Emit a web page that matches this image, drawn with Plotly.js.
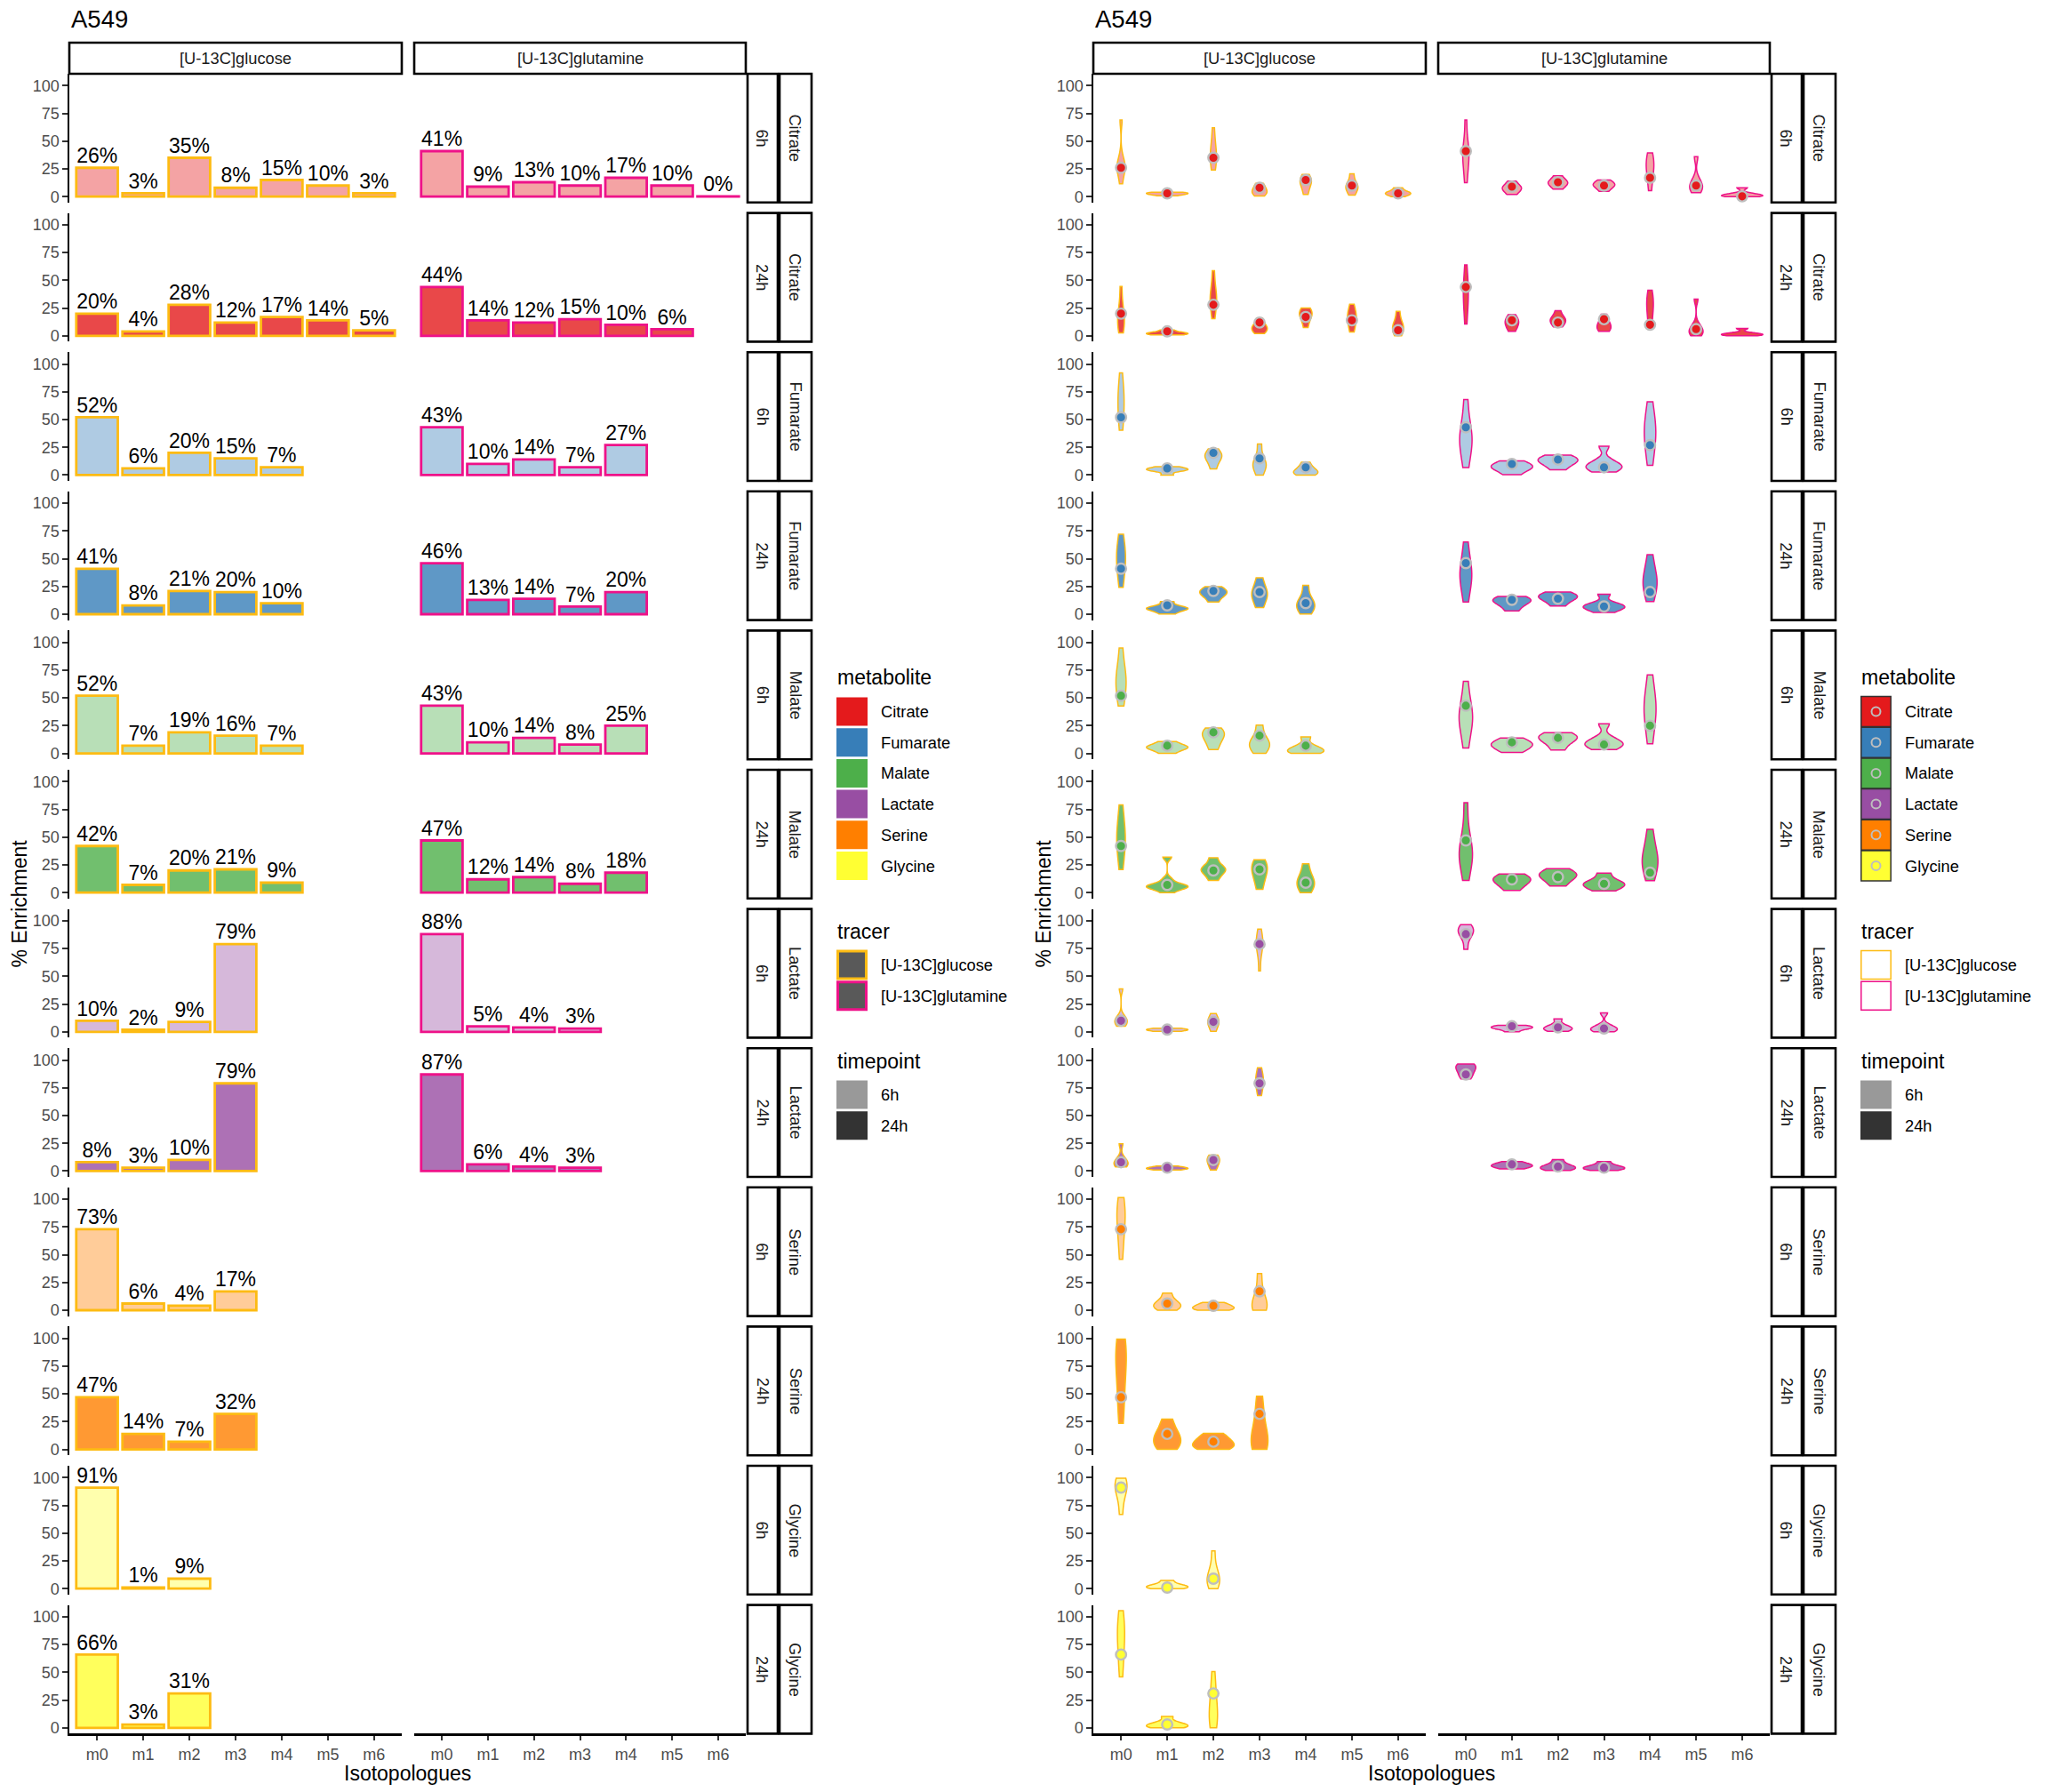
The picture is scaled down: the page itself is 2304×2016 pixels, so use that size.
<!DOCTYPE html>
<html>
<head>
<meta charset="utf-8">
<script src="https://cdn.plot.ly/plotly-3.0.1.min.js"></script>
<style>
html,body{margin:0;padding:0;background:#fff;}
#chart{width:2304px;height:2016px;}
</style>
</head>
<body>
<div id="chart"></div>
<script>
// ---------------- categories ----------------
const isotopologues = ['m0','m1','m2','m3','m4','m5','m6'];
const metabolites = ['Citrate','Fumarate','Malate','Lactate','Serine','Glycine'];
const timepoints = ['6h','24h'];
const tracers = ['[U-13C]glucose','[U-13C]glutamine'];
const yTicks = [0, 25, 50, 75, 100];

// ---------------- mean % enrichment (bar heights, violin centre points) ----------------
const citrate6hGlucose    = [26, 3, 35, 8, 15, 10, 3];
const citrate6hGlutamine  = [41, 9, 13, 10, 17, 10, 0.3];
const citrate24hGlucose   = [20, 4, 28, 12, 17, 14, 5];
const citrate24hGlutamine = [44, 14, 12, 15, 10, 6];
const fumarate6hGlucose    = [52, 6, 20, 15, 7];
const fumarate6hGlutamine  = [43, 10, 14, 7, 27];
const fumarate24hGlucose   = [41, 8, 21, 20, 10];
const fumarate24hGlutamine = [46, 13, 14, 7, 20];
const malate6hGlucose    = [52, 7, 19, 16, 7];
const malate6hGlutamine  = [43, 10, 14, 8, 25];
const malate24hGlucose   = [42, 7, 20, 21, 9];
const malate24hGlutamine = [47, 12, 14, 8, 18];
const lactate6hGlucose    = [10, 2, 9, 79];
const lactate6hGlutamine  = [88, 5, 4, 3];
const lactate24hGlucose   = [8, 3, 10, 79];
const lactate24hGlutamine = [87, 6, 4, 3];
const serine6hGlucose  = [73, 6, 4, 17];
const serine24hGlucose = [47, 14, 7, 32];
const glycine6hGlucose  = [91, 1, 9];
const glycine24hGlucose = [66, 3, 31];

// ---------------- replicate distributions per isotopologue (violins) ----------------
const citrate6hGlucoseSamples = [
  [11.5, 21, 25, 27, 29, 36, 69], [0.8, 1.8, 2.4, 3, 3.6, 4], [24, 30, 34, 38, 42, 50, 62],
  [0.5, 3, 4.5, 6, 9, 12], [2, 8, 12, 14, 16, 20], [1.3, 6, 8, 10, 13, 20.5], [0, 2, 2.7, 3.5, 5, 8]];
const citrate6hGlutamineSamples = [
  [12.5, 25, 33, 38, 42, 48, 69], [2, 5, 7, 8.5, 10, 14], [6.7, 10, 12, 13, 15, 18.7],
  [4.8, 8, 10, 11, 12.5, 15], [5.3, 15, 22, 27, 30, 34, 39.5], [3.5, 7, 9, 11, 16, 36], [0, 0.5, 1, 1.5, 3, 8]];
const citrate24hGlucoseSamples = [
  [2.7, 8, 12, 16, 20, 28, 44.5], [0.8, 1.5, 2, 2.6, 3.4, 5.3], [15.5, 25, 30, 34, 37, 45, 58.7],
  [2, 5, 6.5, 8, 11, 16], [7.5, 14, 18, 20, 22, 25], [3.5, 10, 15, 18, 21, 28.5], [0, 4, 7, 9, 13, 22]];
const citrate24hGlutamineSamples = [
  [10.7, 24, 32, 38, 44, 50, 64], [4, 8, 11, 13, 15, 19], [8, 11, 13.5, 15, 17, 22.7],
  [4, 6.5, 8, 10, 14, 19.5], [7, 15, 22, 27, 31, 35, 41], [0, 2.5, 4, 6, 10, 33], [0, 0.6, 1.2, 1.8, 2.6, 6.7]];
const fumarate6hGlucoseSamples = [
  [40.3, 50, 58, 66, 72, 78, 92], [0, 3.5, 4.5, 5.3, 6, 7.5], [5.6, 12, 15.5, 17.5, 19.5, 23.5],
  [0, 6, 9, 11, 16, 28], [0, 1.5, 2.5, 4, 7, 11.5]];
const fumarate6hGlutamineSamples = [
  [6.7, 20, 28, 33, 38, 48, 68], [0.3, 4.5, 6.5, 8, 10, 12.8], [4.8, 9.5, 12, 13.5, 15.5, 18],
  [2.7, 6, 7.5, 9, 13, 26], [8.8, 22, 32, 38, 44, 52, 66]];
const fumarate24hGlucoseSamples = [
  [24.3, 36, 44, 50, 55, 62, 72], [0.3, 3.5, 4.8, 5.6, 7, 11.5], [11, 16, 18.5, 20, 22, 24.8],
  [6, 13, 17, 20, 24, 32.8], [0.3, 5, 8, 10, 15, 26]];
const fumarate24hGlutamineSamples = [
  [11, 25, 31, 36, 42, 50, 65], [3, 8, 11, 12.5, 14, 16], [7.5, 12, 14.5, 16, 17.5, 20],
  [1.6, 5, 6.5, 7.5, 10, 18], [11.5, 20, 26, 30, 34, 42, 53.6]];
const malate6hGlucoseSamples = [
  [42.7, 52, 60, 66, 70, 78, 95], [0, 3.5, 5, 6, 7.5, 10.7], [3.5, 10, 15, 17.5, 19.5, 23],
  [0, 5, 8, 10, 15, 25.6], [0, 1.5, 2.5, 4, 7, 15]];
const malate6hGlutamineSamples = [
  [4.8, 20, 28, 33, 38, 47, 65], [0.8, 4.5, 7, 8.5, 10.5, 14], [3, 9, 12.5, 14.5, 16, 18.7],
  [3.5, 7, 8.5, 10, 14, 26.7], [8.8, 24, 34, 40, 46, 55, 70.7]];
const malate24hGlucoseSamples = [
  [20.8, 35, 43, 49, 55, 64, 79], [0, 4, 5, 5.5, 6, 7, 12, 32], [11, 17, 20, 21.5, 24, 31.5],
  [3, 12, 18, 22, 25, 29.6], [0, 5, 8.5, 11, 16, 26]];
const malate24hGlutamineSamples = [
  [11, 26, 32, 36, 42, 55, 81], [2, 7, 10, 12, 14, 16.8], [6, 11, 14.5, 16, 18, 21.6],
  [1.6, 5, 7, 8.5, 11, 17.6], [10.7, 20, 26, 30, 34, 44, 57]];
const lactate6hGlucoseSamples = [
  [5, 7.5, 9.5, 11, 14, 38.7], [0.5, 1.3, 1.9, 2.5, 3.2], [0.5, 5, 8, 9.5, 12, 16.5],
  [55, 70, 76, 79, 82, 86, 92.5]];
const lactate6hGlutamineSamples = [
  [74.4, 84, 88, 90, 92, 94, 96.5], [0, 2.5, 3.5, 4, 5, 5.9], [0.5, 2, 3, 4, 6, 11.7],
  [0, 1.5, 2.5, 3.5, 6, 17]];
const lactate24hGlucoseSamples = [
  [3.7, 5.5, 7, 8.5, 12, 24.5], [1, 2, 2.5, 3.2, 4.5], [1, 5, 8, 10, 12, 14.4],
  [68, 75, 79, 83, 86, 93]];
const lactate24hGlutamineSamples = [
  [83, 86, 89, 92, 94, 95.5, 96.5], [2, 3.5, 4.5, 5.5, 6.5, 8.5], [0.5, 2, 3, 4, 6, 10.4],
  [0.5, 1.8, 2.7, 3.5, 5, 8.5]];
const serine6hGlucoseSamples = [
  [45.8, 62, 73, 82, 88, 93, 101.6], [0, 2.5, 4, 6, 9, 15.5], [0, 1, 2, 3.5, 5, 7],
  [0, 2, 4, 8, 17, 33]];
const serine24hGlucoseSamples = [
  [23.5, 40, 55, 70, 80, 88, 95, 99.4], [0, 4, 8, 12, 17, 27.4], [0, 2, 4, 7, 10, 14.5],
  [0, 3, 6, 10, 20, 33, 48]];
const glycine6hGlucoseSamples = [
  [66.8, 80, 87, 91, 94, 97, 99.4], [0, 0.8, 1.5, 2.5, 4, 7.4], [0, 4, 7, 9, 13, 20, 34]];
const glycine24hGlucoseSamples = [
  [45.8, 60, 72, 82, 88, 94, 105.5], [0, 1, 2, 3, 5, 10.3], [0, 5, 10, 15, 25, 35, 50.6]];

// lookup tables built from the arrays above: [metabolite][timepoint][tracer]
const meanTable = [
  [[citrate6hGlucose, citrate6hGlutamine], [citrate24hGlucose, citrate24hGlutamine]],
  [[fumarate6hGlucose, fumarate6hGlutamine], [fumarate24hGlucose, fumarate24hGlutamine]],
  [[malate6hGlucose, malate6hGlutamine], [malate24hGlucose, malate24hGlutamine]],
  [[lactate6hGlucose, lactate6hGlutamine], [lactate24hGlucose, lactate24hGlutamine]],
  [[serine6hGlucose, null], [serine24hGlucose, null]],
  [[glycine6hGlucose, null], [glycine24hGlucose, null]]
];
const sampleTable = [
  [[citrate6hGlucoseSamples, citrate6hGlutamineSamples], [citrate24hGlucoseSamples, citrate24hGlutamineSamples]],
  [[fumarate6hGlucoseSamples, fumarate6hGlutamineSamples], [fumarate24hGlucoseSamples, fumarate24hGlutamineSamples]],
  [[malate6hGlucoseSamples, malate6hGlutamineSamples], [malate24hGlucoseSamples, malate24hGlutamineSamples]],
  [[lactate6hGlucoseSamples, lactate6hGlutamineSamples], [lactate24hGlucoseSamples, lactate24hGlutamineSamples]],
  [[serine6hGlucoseSamples, null], [serine24hGlucoseSamples, null]],
  [[glycine6hGlucoseSamples, null], [glycine24hGlucoseSamples, null]]
];

// ---------------- styles ----------------
const metaboliteColors = ['#E41A1C','#377EB8','#4DAF4A','#984EA3','#FF7F00','#FFFF33'];
const tracerColors = ['#FDBB13','#EE1289'];
const timepointAlpha = [0.4, 0.8];
const timepointKeyColors = ['#999999','#333333'];
const FONT = 'Liberation Sans, Arial, Helvetica, sans-serif';

// ---------------- geometry (pixels) ----------------
const W = 2304, H = 2016;
const halfOffsets = [0, 1152];
const panelCols = [[78, 452], [466, 839]];
const innerStrip = [841, 875], outerStrip = [877, 913];
const firstTop = 83, panelHeight = 144.8, rowPitch = 156.6;
const stripTop = 48, stripBottom = 83;
const yRange = [-5.27, 110.67];
const px = v => v / W;
const py = v => 1 - v / H;

function rgba(hex, a) {
  const n = parseInt(hex.slice(1), 16);
  return 'rgba(' + ((n >> 16) & 255) + ',' + ((n >> 8) & 255) + ',' + (n & 255) + ',' + a + ')';
}
function axRef(letter, n) { return n === 1 ? letter : letter + n; }
function axKey(letter, n) { return letter + 'axis' + (n === 1 ? '' : n); }

// peak of the Gaussian KDE (Silverman bandwidth, as the violin trace uses)
function kdePeak(s) {
  const n = s.length;
  const sorted = s.slice().sort((a, b) => a - b);
  const mean = s.reduce((a, b) => a + b, 0) / n;
  const sd = Math.sqrt(s.reduce((a, b) => a + (b - mean) * (b - mean), 0) / (n - 1));
  const q = p => { const i = (n - 1) * p, lo = Math.floor(i), hi = Math.ceil(i); return sorted[lo] + (sorted[hi] - sorted[lo]) * (i - lo); };
  let a = Math.min(sd, (q(0.75) - q(0.25)) / 1.349);
  if (!(a > 0)) a = sd;
  const bw = 1.059 * a * Math.pow(n, -0.2);
  let peak = 0;
  for (let i = 0; i <= 200; i++) {
    const y = sorted[0] + (sorted[n - 1] - sorted[0]) * i / 200;
    let d = 0;
    for (const v of s) d += Math.exp(-0.5 * Math.pow((y - v) / bw, 2));
    peak = Math.max(peak, d / (n * bw * Math.sqrt(2 * Math.PI)));
  }
  return peak;
}
// area-like scaling within a panel: densest violin gets the full 0.9 width
function violinWidths(list) {
  const peaks = list.map(kdePeak);
  const pmax = Math.max(...peaks);
  return peaks.map(p => Math.max(0.1, 0.9 * Math.pow(p / pmax, 0.85)));
}

const traces = [];
const layout = {
  width: W, height: H,
  margin: {l: 0, r: 0, t: 0, b: 0},
  paper_bgcolor: '#ffffff', plot_bgcolor: '#ffffff',
  showlegend: false,
  barmode: 'overlay', violinmode: 'overlay',
  font: {family: FONT, color: '#000'},
  shapes: [], annotations: []
};
const nRows = metabolites.length * timepoints.length;

// axes
for (let h = 0; h < 2; h++) {
  for (let c = 0; c < 2; c++) {
    const n = h * 2 + c + 1;
    layout[axKey('x', n)] = {
      domain: [px(panelCols[c][0] + halfOffsets[h]), px(panelCols[c][1] + halfOffsets[h])],
      anchor: axRef('y', h * nRows + nRows),
      type: 'category', categoryorder: 'array', categoryarray: isotopologues,
      tickvals: isotopologues, ticktext: isotopologues,
      range: [-0.6, 6.6], fixedrange: true,
      showline: true, linecolor: '#000', linewidth: 2.2,
      ticks: 'outside', ticklen: 5.5, tickwidth: 2, tickcolor: '#333333',
      tickfont: {family: FONT, size: 18, color: '#4D4D4D'},
      showgrid: false, zeroline: false, automargin: false
    };
  }
  for (let r = 0; r < nRows; r++) {
    const n = h * nRows + r + 1;
    const top = firstTop + r * rowPitch, bottom = top + panelHeight;
    layout[axKey('y', n)] = {
      domain: [py(bottom), py(top)],
      anchor: axRef('x', h * 2 + 1),
      range: yRange, fixedrange: true,
      tickvals: yTicks, ticktext: yTicks.map(String),
      showline: true, linecolor: '#000', linewidth: 2.2,
      ticks: 'outside', ticklen: 5.5, tickwidth: 2, tickcolor: '#333333',
      tickfont: {family: FONT, size: 18, color: '#4D4D4D'},
      showgrid: false, zeroline: false, automargin: false
    };
  }
}

// data traces
metabolites.forEach((met, mi) => {
  timepoints.forEach((tp, ti) => {
    const r = mi * timepoints.length + ti;
    tracers.forEach((tr, ci) => {
      const vals = meanTable[mi][ti][ci];
      if (!vals) return;
      const xs = isotopologues.slice(0, vals.length);
      const fill = rgba(metaboliteColors[mi], timepointAlpha[ti]);
      // left: bar chart
      traces.push({
        type: 'bar', x: xs, y: vals, width: 0.9,
        xaxis: axRef('x', ci + 1), yaxis: axRef('y', r + 1),
        marker: {color: fill, line: {color: tracerColors[ci], width: 2.8}},
        hoverinfo: 'skip', name: met + ' ' + tp + ' ' + tr
      });
      traces.push({
        type: 'scatter', mode: 'text', x: xs, y: vals,
        text: vals.map(v => Math.round(v) + '%'),
        textposition: 'top center',
        textfont: {family: FONT, size: 23, color: '#000'},
        cliponaxis: false, hoverinfo: 'skip',
        xaxis: axRef('x', ci + 1), yaxis: axRef('y', r + 1)
      });
      // right: violins + mean points
      const samples = sampleTable[mi][ti][ci];
      const widths = violinWidths(samples);
      samples.forEach((s, k) => {
        traces.push({
          type: 'violin', x: s.map(() => isotopologues[k]), y: s,
          xaxis: axRef('x', ci + 3), yaxis: axRef('y', nRows + r + 1),
          width: widths[k], spanmode: 'hard', scalemode: 'width',
          fillcolor: fill, line: {color: tracerColors[ci], width: 1.5},
          points: false, box: {visible: false}, meanline: {visible: false},
          hoverinfo: 'skip', name: met + ' ' + tp + ' ' + tr + ' ' + isotopologues[k]
        });
      });
      traces.push({
        type: 'scatter', mode: 'markers', x: xs, y: vals,
        xaxis: axRef('x', ci + 3), yaxis: axRef('y', nRows + r + 1),
        marker: {size: 11.5, color: metaboliteColors[mi], line: {color: '#BEBEBE', width: 2.4}},
        cliponaxis: false, hoverinfo: 'skip'
      });
    });
  });
});

// strips, titles, legends
function rect(x0, x1, y0, y1, fill, lineColor, lineWidth) {
  layout.shapes.push({type: 'rect', xref: 'paper', yref: 'paper', layer: 'above',
    x0: px(x0), x1: px(x1), y0: py(y1), y1: py(y0),
    fillcolor: fill, line: {color: lineColor || 'rgba(0,0,0,0)', width: lineWidth || 0}});
}
function text(x, y, t, size, opts) {
  opts = opts || {};
  layout.annotations.push({xref: 'paper', yref: 'paper', x: px(x), y: py(y), text: t,
    showarrow: false, xanchor: opts.xanchor || 'center', yanchor: 'middle',
    textangle: opts.angle || 0,
    font: {family: FONT, size: size, color: opts.color || '#000'}});
}

for (let h = 0; h < 2; h++) {
  const o = halfOffsets[h];
  text(78 + o, 22, 'A549', 27.5, {xanchor: 'left'});
  tracers.forEach((tr, c) => {
    rect(panelCols[c][0] + o, panelCols[c][1] + o, stripTop, stripBottom, '#ffffff', '#000', 2.6);
    text((panelCols[c][0] + panelCols[c][1]) / 2 + o, (stripTop + stripBottom) / 2, tr, 18.3, {color: '#1A1A1A'});
  });
  metabolites.forEach((met, mi) => {
    timepoints.forEach((tp, ti) => {
      const r = mi * timepoints.length + ti;
      const top = firstTop + r * rowPitch, bottom = top + panelHeight;
      rect(innerStrip[0] + o, innerStrip[1] + o, top, bottom, '#ffffff', '#000', 2.6);
      rect(outerStrip[0] + o, outerStrip[1] + o, top, bottom, '#ffffff', '#000', 2.6);
      text((innerStrip[0] + innerStrip[1]) / 2 + o, (top + bottom) / 2, tp, 18.3, {angle: 90, color: '#1A1A1A'});
      text((outerStrip[0] + outerStrip[1]) / 2 + o, (top + bottom) / 2, met, 18.3, {angle: 90, color: '#1A1A1A'});
    });
  });
  text((panelCols[0][0] + panelCols[1][1]) / 2 + o, 1995, 'Isotopologues', 23);
  text(21 + o, 1016.5, '% Enrichment', 23, {angle: -90});

  // legend
  const lx = 941 + o, kw = 35, lab = 989 + o, pitch = 34.7, kh = 16;
  text(940 + o, 762.5, 'metabolite', 23, {xanchor: 'left'});
  metabolites.forEach((met, i) => {
    const cy = 800.5 + i * pitch;
    if (h === 0) {
      rect(lx, lx + kw, cy - kh, cy + kh, metaboliteColors[i]);
    } else {
      rect(lx + 0.8, lx + kw - 0.8, cy - kh - 1, cy + kh + 1, metaboliteColors[i], '#333333', 1.5);
      layout.shapes.push({type: 'circle', xref: 'paper', yref: 'paper', layer: 'above',
        x0: px(lx + kw / 2 - 5), x1: px(lx + kw / 2 + 5), y0: py(cy + 5), y1: py(cy - 5),
        fillcolor: 'rgba(0,0,0,0)', line: {color: '#BEBEBE', width: 2}});
    }
    text(lab, cy, met, 18.3, {xanchor: 'left'});
  });
  text(940 + o, 1047.5, 'tracer', 23, {xanchor: 'left'});
  tracers.forEach((tr, i) => {
    const cy = 1085.5 + i * pitch;
    if (h === 0) rect(lx + 1.5, lx + kw - 1.5, cy - kh + 0.5, cy + kh - 0.5, '#595959', tracerColors[i], 3);
    else rect(lx + 0.8, lx + kw - 0.8, cy - kh, cy + kh, '#ffffff', tracerColors[i], 1.5);
    text(lab, cy, tr, 18.3, {xanchor: 'left'});
  });
  text(940 + o, 1193.5, 'timepoint', 23, {xanchor: 'left'});
  timepoints.forEach((tp, i) => {
    const cy = 1231.5 + i * pitch;
    rect(lx, lx + kw, cy - kh, cy + kh, timepointKeyColors[i]);
    text(lab, cy, tp, 18.3, {xanchor: 'left'});
  });
}

Plotly.newPlot('chart', traces, layout, {displayModeBar: false, staticPlot: true});
</script>
</body>
</html>
